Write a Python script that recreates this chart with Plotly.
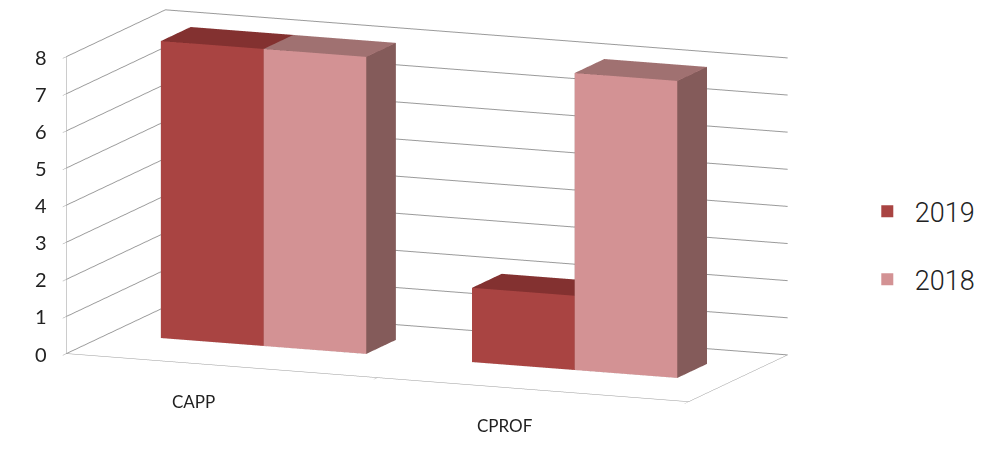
import plotly.graph_objects as go

categories = ["CAPP", "CPROF"]
series_names = ["2019", "2018"]
values_2019 = [8, 2]
values_2018 = [8, 8]
z_ticks = [0, 1, 2, 3, 4, 5, 6, 7, 8]

series_values = [values_2019, values_2018]
front_colors = ["#A94442", "#D39294"]
top_colors = ["#833130", "#A07171"]
side_colors = ["#7A2C2B", "#845B5A"]

bar_w = 0.33
y0, y1 = 0.42, 0.72


def box_mesh(xa, xb, za, zb, front, top, side, name):
    xs = [xa, xb, xb, xa, xa, xb, xb, xa]
    ys = [y0, y0, y1, y1, y0, y0, y1, y1]
    zs = [za, za, za, za, zb, zb, zb, zb]
    faces = [
        (0, 1, 5, front), (0, 5, 4, front),
        (3, 2, 6, front), (3, 6, 7, front),
        (0, 3, 7, side), (0, 7, 4, side),
        (1, 2, 6, side), (1, 6, 5, side),
        (4, 5, 6, top), (4, 6, 7, top),
        (0, 1, 2, side), (0, 2, 3, side),
    ]
    return go.Mesh3d(
        x=xs, y=ys, z=zs,
        i=[f[0] for f in faces], j=[f[1] for f in faces], k=[f[2] for f in faces],
        facecolor=[f[3] for f in faces],
        flatshading=True,
        lighting=dict(ambient=1, diffuse=0, specular=0, roughness=1, fresnel=0),
        hoverinfo="skip", showlegend=False, name=name,
    )


fig = go.Figure()
for ci, cat in enumerate(categories):
    left = ci + 0.5 - bar_w
    for si, sname in enumerate(series_names):
        xa = left + si * bar_w
        fig.add_trace(box_mesh(xa, xa + bar_w, 0, series_values[si][ci],
                               front_colors[si], top_colors[si], side_colors[si], sname))

for si, sname in enumerate(series_names):
    fig.add_trace(go.Scatter3d(
        x=[None], y=[None], z=[None], mode="markers", name=sname,
        marker=dict(symbol="square", size=13, color=front_colors[si]),
        legendgroup=sname,
    ))

annotations = []
for ci, cat in enumerate(categories):
    annotations.append(dict(x=ci + 0.5, y=0, z=0, text=cat, showarrow=False,
                            xshift=-28, yshift=-36,
                            font=dict(family="Lato", size=17, color="#222")))
for v in z_ticks:
    annotations.append(dict(x=0, y=0, z=v, text=str(v), showarrow=False,
                            xshift=-25, font=dict(family="Lato", size=20, color="#222")))

axis_common = dict(showbackground=False, zeroline=False, showspikes=False,
                   linecolor="#9a9a9a", gridcolor="#9a9a9a", title=dict(text=""))

fig.update_layout(
    width=986, height=455,
    margin=dict(l=0, r=0, t=0, b=0),
    paper_bgcolor="white",
    showlegend=True,
    legend=dict(x=0.872, y=0.46, xanchor="left", yanchor="middle",
                font=dict(family="Roboto", size=27, color="#222", weight=300),
                tracegroupgap=30, itemsizing="constant", itemwidth=45),
    scene=dict(
        domain=dict(x=[0, 0.88], y=[0, 1]),
        xaxis=dict(axis_common, range=[0, 2], tickvals=[0, 1, 2],
                   showgrid=False, showline=True, ticks="outside", ticklen=6,
                   tickcolor="#9a9a9a", showticklabels=False),
        yaxis=dict(axis_common, range=[0, 1], showgrid=False, showline=True,
                   showticklabels=False, ticks=""),
        zaxis=dict(axis_common, range=[0, 8], tickvals=z_ticks, showgrid=True,
                   showline=True, ticks="outside", tickcolor="#9a9a9a", ticklen=6,
                   showticklabels=False),
        aspectmode="manual",
        aspectratio=dict(x=2.95, y=1.16, z=1.33),
        camera=dict(eye=dict(x=0.99, y=-2.366, z=0.402), center=dict(x=0.033, y=0, z=-0.095),
                    up=dict(x=0, y=0, z=1), projection=dict(type="orthographic")),
        annotations=annotations,
    ),
)

fig.write_html("out.html")
